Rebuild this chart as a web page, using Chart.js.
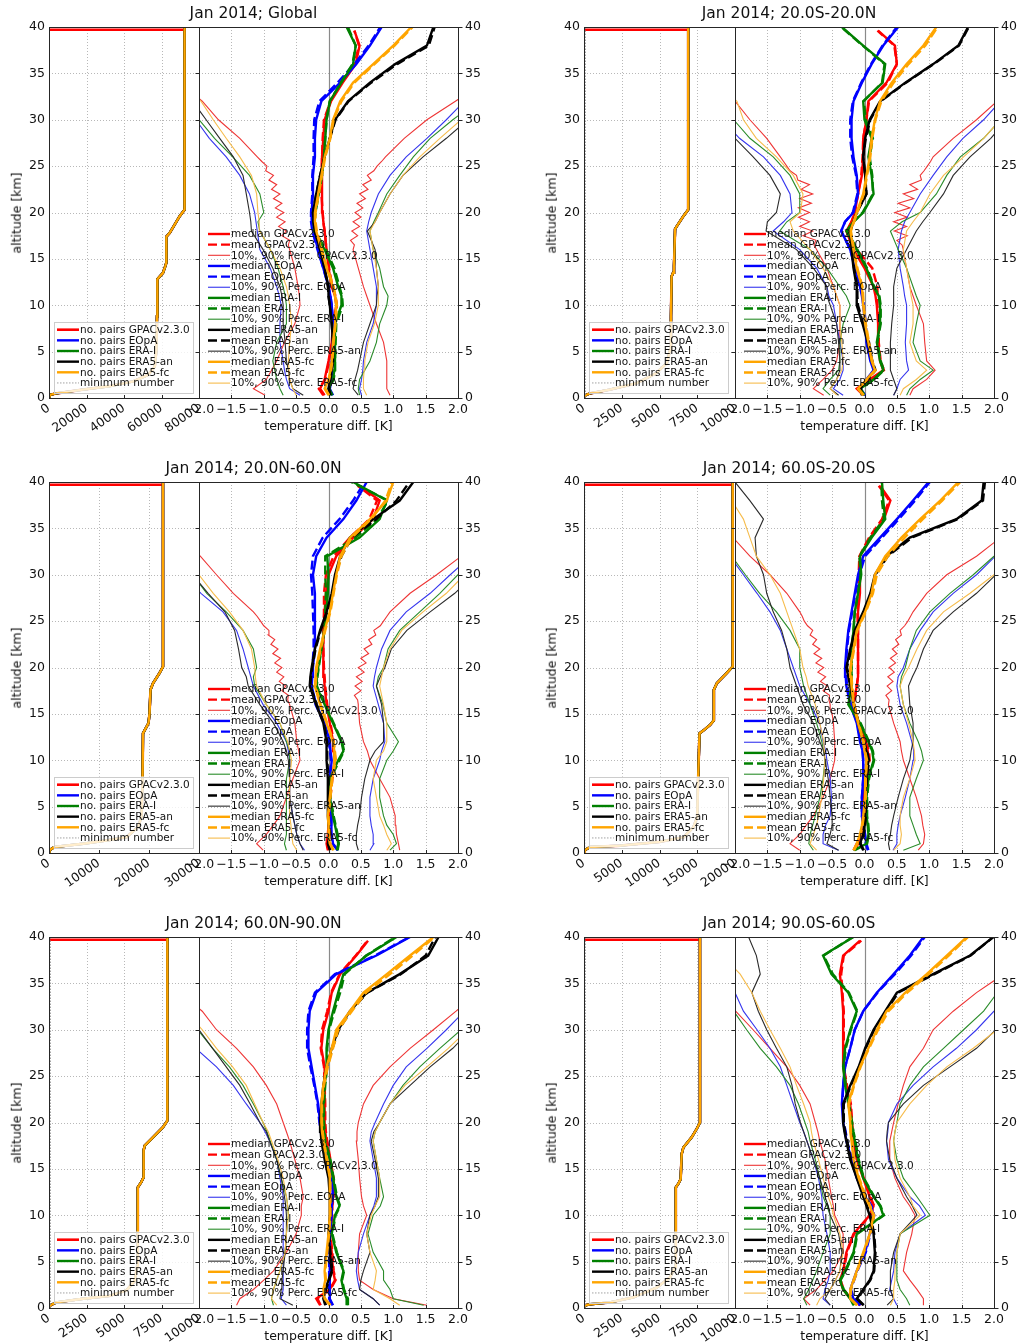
<!DOCTYPE html>
<html>
<head>
<meta charset="utf-8">
<title>Jan 2014 temperature differences</title>
<script src="https://cdn.jsdelivr.net/npm/chart.js@4.4.1/dist/chart.umd.min.js"></script>
<style>
  html, body { margin: 0; padding: 0; background: #fff; }
  body { position: relative; width: 1018px; height: 1344px; overflow: hidden; font-family: "DejaVu Sans", sans-serif; }
  canvas { position: absolute; }
  .lbl { position: absolute; white-space: nowrap; color: #111; line-height: 1; font-family: "DejaVu Sans", sans-serif; }
</style>
</head>
<body>
<script>
// ---------------------------------------------------------------------------
// Shared axes
// ---------------------------------------------------------------------------
const ALT = [0.3, 1, 2, 3, 4, 6, 8, 10, 11, 12, 14, 16, 18, 19, 20, 22, 24, 26, 28, 30, 32, 34, 36, 38, 40];
const ALT_GPAC = [0.3, 1, 2, 3, 4, 6, 8, 10, 11, 12, 14, 16, 18, 19, 20, 22, 24, 26, 28, 30, 32, 34, 36, 38, 39.6];
// finer levels for the oscillating GPAC percentiles in the lower stratosphere
const ALT_FINE = [15, 15.5, 16, 16.5, 17, 17.5, 18, 18.5, 19, 19.5, 20, 20.5, 21, 21.5, 22, 22.5, 23, 23.5, 24, 24.5, 25, 25.5, 26];
const ALT_TICKS = [0, 5, 10, 15, 20, 25, 30, 35, 40];
const TEMP_TICKS = [-2, -1.5, -1, -0.5, 0, 0.5, 1, 1.5, 2];
const GPAC_TOP_KM = 39.7;
const MIN_PAIRS = 100;

const SOURCES = ['GPACv2.3.0', 'EOpA', 'ERA-I', 'ERA5-an', 'ERA5-fc'];

// ---------------------------------------------------------------------------
// Global
// ---------------------------------------------------------------------------
const GLOBAL_PAIR_TICKS = [0, 20000, 40000, 60000, 80000];
const GLOBAL_PAIR_ALT = [0, 0.35, 0.5, 0.9, 1.26, 1.8, 2.5, 3.4, 5.2, 8.8, 12.8, 13.5, 14.2, 14.6, 17.4, 17.8, 19.6, 20.3, 40];
const GLOBAL_PAIRS = [0, 600, 3900, 18000, 32000, 45000, 53000, 56400, 57300, 57600, 57800, 60800, 62000, 62600, 62600, 64400, 69700, 72300, 72300];

const GLOBAL_GPAC_MED = [-0.06,-0.13,-0.06,-0.03,0.0,0.05,0.07,0.12,0.1,0.05,0.0,-0.03,-0.06,-0.08,-0.09,-0.1,-0.1,-0.1,-0.08,-0.06,0.04,0.22,0.42,0.48,0.4];
const GLOBAL_GPAC_MEAN = [-0.08,-0.15,-0.05,-0.02,0.01,0.06,0.08,0.13,0.11,0.06,0.01,-0.03,-0.06,-0.08,-0.09,-0.11,-0.11,-0.1,-0.09,-0.07,0.03,0.2,0.4,0.47,0.4];
const GLOBAL_GPAC_P10 = [-0.98,-1.16,-0.96,-0.88,-0.8,-0.68,-0.52,-0.44,-0.45,-0.47,-0.52,-0.6,-0.7,-0.72,-0.75,-0.8,-0.9,-1.1,-1.37,-1.7,-1.95,-2.3,-2.6,-2.9,-3.2];
const GLOBAL_GPAC_P90 = [0.95,0.9,0.9,0.9,0.9,0.85,0.74,0.64,0.59,0.54,0.46,0.38,0.41,0.44,0.46,0.54,0.64,0.88,1.17,1.52,1.96,2.4,2.8,3.1,3.4];
const GLOBAL_GPAC_P10_FINE = [-0.56,-0.58,-0.6,-0.62,-0.6,-0.72,-0.65,-0.77,-0.67,-0.8,-0.69,-0.82,-0.72,-0.85,-0.75,-0.88,-0.8,-0.92,-0.85,-0.97,-0.95,-1.03,-1.1];
const GLOBAL_GPAC_P90_FINE = [0.42,0.4,0.38,0.4,0.34,0.45,0.36,0.48,0.38,0.5,0.41,0.53,0.44,0.57,0.48,0.61,0.53,0.66,0.6,0.7,0.75,0.82,0.88];
const GLOBAL_EOPA_MED = [0.07,0.02,0.05,0.05,0.05,0.07,0.07,0.05,0.03,0.0,-0.08,-0.16,-0.24,-0.26,-0.26,-0.24,-0.24,-0.21,-0.21,-0.19,-0.11,0.18,0.43,0.64,0.82];
const GLOBAL_EOPA_MEAN = [0.06,0.01,0.04,0.04,0.05,0.07,0.07,0.05,0.03,0.0,-0.08,-0.17,-0.25,-0.27,-0.27,-0.25,-0.25,-0.23,-0.23,-0.22,-0.14,0.14,0.4,0.62,0.8];
const GLOBAL_EOPA_P10 = [-0.44,-0.6,-0.65,-0.68,-0.7,-0.75,-0.75,-0.73,-0.76,-0.8,-0.9,-1.06,-1.1,-1.12,-1.14,-1.22,-1.37,-1.58,-1.84,-2.05,-2.3,-2.6,-2.9,-3.2,-3.5];
const GLOBAL_EOPA_P90 = [0.51,0.48,0.51,0.53,0.54,0.59,0.69,0.74,0.74,0.74,0.69,0.64,0.59,0.62,0.66,0.77,0.95,1.2,1.52,1.82,2.1,2.5,2.9,3.2,3.5];
const GLOBAL_ERAI_MED = [0.05,0.0,0.07,0.09,0.1,0.1,0.1,0.2,0.2,0.15,0.07,-0.06,-0.22,-0.23,-0.21,-0.16,-0.1,-0.07,-0.05,-0.03,0.02,0.2,0.38,0.42,0.28];
const GLOBAL_ERAI_MEAN = [0.06,0.01,0.08,0.1,0.1,0.11,0.12,0.22,0.21,0.17,0.09,-0.04,-0.21,-0.22,-0.2,-0.15,-0.1,-0.07,-0.05,-0.03,0.02,0.19,0.37,0.42,0.3];
const GLOBAL_ERAI_P10 = [-0.7,-0.75,-0.8,-0.83,-0.86,-0.8,-0.65,-0.65,-0.67,-0.7,-0.78,-0.9,-1.06,-1.09,-1.0,-1.06,-1.22,-1.48,-1.76,-2.0,-2.3,-2.6,-2.9,-3.2,-3.5];
const GLOBAL_ERAI_P90 = [0.48,0.46,0.48,0.56,0.64,0.74,0.79,0.9,0.92,0.85,0.79,0.69,0.64,0.7,0.77,0.9,1.1,1.31,1.57,1.92,2.3,2.6,2.9,3.2,3.5];
const GLOBAL_ERA5AN_MED = [0.02,0.0,0.02,0.05,0.07,0.07,0.05,0.02,0.0,0.0,-0.06,-0.13,-0.21,-0.23,-0.24,-0.19,-0.13,-0.06,0.02,0.1,0.3,0.64,1.03,1.52,1.62];
const GLOBAL_ERA5AN_MEAN = [0.03,0.01,0.03,0.05,0.07,0.07,0.05,0.02,0.0,-0.01,-0.06,-0.13,-0.21,-0.23,-0.24,-0.19,-0.13,-0.06,0.02,0.11,0.31,0.66,1.06,1.55,1.64];
const GLOBAL_ERA5AN_P10 = [-0.39,-0.55,-0.6,-0.62,-0.65,-0.67,-0.7,-0.7,-0.72,-0.75,-0.86,-1.01,-1.19,-1.2,-1.22,-1.27,-1.32,-1.47,-1.68,-1.89,-2.1,-2.4,-2.7,-3.0,-3.3];
const GLOBAL_ERA5AN_P90 = [0.46,0.38,0.41,0.45,0.48,0.54,0.64,0.74,0.75,0.77,0.74,0.72,0.6,0.72,0.79,0.95,1.15,1.46,1.82,2.15,2.5,2.8,3.1,3.4,3.7];
const GLOBAL_ERA5FC_MED = [0.0,-0.06,0.0,0.03,0.05,0.07,0.1,0.12,0.1,0.07,-0.03,-0.11,-0.19,-0.21,-0.21,-0.16,-0.11,-0.06,0.02,0.07,0.18,0.38,0.69,1.0,1.28];
const GLOBAL_ERA5FC_MEAN = [0.01,-0.05,0.01,0.04,0.06,0.08,0.11,0.13,0.11,0.08,-0.02,-0.1,-0.18,-0.2,-0.2,-0.15,-0.1,-0.05,0.03,0.08,0.2,0.4,0.71,1.02,1.3];
const GLOBAL_ERA5FC_P10 = [-0.5,-0.55,-0.6,-0.61,-0.62,-0.6,-0.57,-0.6,-0.62,-0.65,-0.75,-0.9,-1.06,-1.07,-1.09,-1.11,-1.19,-1.37,-1.58,-1.78,-1.97,-2.3,-2.6,-2.9,-3.2];
const GLOBAL_ERA5FC_P90 = [0.59,0.54,0.54,0.55,0.56,0.61,0.71,0.77,0.77,0.77,0.74,0.69,0.64,0.72,0.79,0.95,1.15,1.41,1.72,2.05,2.4,2.7,3.0,3.3,3.6];

// ---------------------------------------------------------------------------
// 20.0S-20.0N
// ---------------------------------------------------------------------------
const TROP_PAIR_TICKS = [0, 2500, 5000, 7500, 10000];
const TROP_PAIR_ALT = [0, 0.3, 0.5, 0.9, 1.6, 2.7, 3.8, 5.2, 8.8, 13.1, 13.5, 14.2, 18.2, 18.5, 19.6, 20.3, 40];
const TROP_PAIRS = [0, 100, 400, 1700, 3500, 4800, 5500, 5700, 5760, 5800, 5900, 5960, 6030, 6140, 6580, 6900, 6900];

const TROP_GPAC_MED = [-0.02,-0.12,0.08,0.29,0.24,0.21,0.21,0.19,0.17,0.14,0.0,-0.17,-0.28,-0.2,-0.15,-0.1,-0.04,-0.02,-0.02,0.03,0.06,0.34,0.5,0.47,0.21];
const TROP_GPAC_MEAN = [0.0,-0.1,0.1,0.3,0.25,0.22,0.22,0.2,0.2,0.2,0.12,-0.12,-0.27,-0.2,-0.15,-0.1,-0.05,-0.03,-0.02,0.03,0.07,0.36,0.5,0.46,0.2];
const TROP_GPAC_P10 = [-0.63,-0.79,-0.64,-0.5,-0.43,-0.38,-0.38,-0.38,-0.43,-0.48,-0.58,-0.74,-0.89,-0.95,-0.95,-0.89,-1.1,-1.3,-1.51,-1.77,-2.0,-2.3,-2.6,-2.9,-3.2];
const TROP_GPAC_P90 = [0.7,0.75,0.96,1.09,0.96,0.93,0.91,0.8,0.75,0.7,0.65,0.6,0.55,0.55,0.55,0.7,0.86,1.06,1.37,1.73,2.05,2.4,2.7,3.0,3.3];
const TROP_GPAC_P10_FINE = [-0.66,-0.7,-0.74,-0.78,-0.75,-0.95,-0.8,-1.0,-0.85,-1.02,-0.85,-1.02,-0.82,-1.0,-0.8,-0.98,-0.85,-1.03,-1.05,-1.15,-1.2,-1.25,-1.3];
const TROP_GPAC_P90_FINE = [0.62,0.61,0.6,0.58,0.5,0.66,0.46,0.65,0.45,0.66,0.47,0.7,0.52,0.76,0.6,0.82,0.7,0.88,0.86,0.92,0.97,1.02,1.06];
const TROP_EOPA_MED = [0.0,-0.07,0.03,0.14,0.09,0.03,0.01,-0.02,-0.04,-0.07,-0.15,-0.22,-0.36,-0.3,-0.17,-0.1,-0.12,-0.17,-0.2,-0.2,-0.17,-0.04,0.11,0.29,0.52];
const TROP_EOPA_MEAN = [0.01,-0.06,0.04,0.15,0.1,0.04,0.02,-0.01,-0.03,-0.06,-0.14,-0.22,-0.36,-0.3,-0.18,-0.11,-0.13,-0.19,-0.22,-0.22,-0.18,-0.05,0.1,0.28,0.5];
const TROP_EOPA_P10 = [-0.33,-0.48,-0.38,-0.33,-0.33,-0.38,-0.43,-0.48,-0.55,-0.58,-0.74,-1.0,-1.41,-1.25,-1.12,-1.15,-1.3,-1.56,-1.93,-2.2,-2.5,-2.8,-3.1,-3.4,-3.7];
const TROP_EOPA_P90 = [0.45,0.5,0.55,0.68,0.65,0.63,0.65,0.65,0.62,0.6,0.55,0.52,0.57,0.62,0.7,0.86,1.06,1.27,1.52,1.84,2.1,2.4,2.7,3.0,3.3];
const TROP_ERAI_MED = [-0.02,-0.07,0.14,0.29,0.24,0.19,0.24,0.24,0.22,0.14,0.03,-0.12,-0.28,-0.17,-0.02,0.14,0.11,0.06,0.11,0.0,-0.02,0.28,0.32,-0.02,-0.35];
const TROP_ERAI_MEAN = [0.0,-0.06,0.15,0.3,0.25,0.2,0.25,0.25,0.23,0.15,0.04,-0.11,-0.27,-0.17,-0.03,0.13,0.12,0.08,0.13,0.02,-0.01,0.27,0.31,-0.03,-0.36];
const TROP_ERAI_P10 = [-0.53,-0.64,-0.53,-0.4,-0.38,-0.38,-0.33,-0.22,-0.28,-0.38,-0.58,-0.84,-1.31,-1.2,-1.0,-1.0,-1.15,-1.41,-1.77,-2.02,-2.3,-2.6,-2.9,-3.2,-3.5];
const TROP_ERAI_P90 = [0.65,0.7,0.86,1.06,0.86,0.75,0.8,0.86,0.8,0.75,0.65,0.52,0.4,0.58,0.86,1.11,1.27,1.48,1.84,2.1,2.4,2.7,3.0,3.3,3.6];
const TROP_ERA5AN_MED = [-0.04,-0.07,0.04,0.16,0.11,0.05,-0.03,-0.12,-0.12,-0.12,-0.17,-0.2,-0.22,-0.17,-0.12,0.03,0.01,-0.02,0.01,0.08,0.24,0.63,1.06,1.45,1.6];
const TROP_ERA5AN_MEAN = [-0.03,-0.06,0.05,0.17,0.12,0.07,-0.02,-0.1,-0.11,-0.11,-0.16,-0.19,-0.22,-0.17,-0.12,0.03,0.01,-0.02,0.02,0.09,0.25,0.64,1.07,1.46,1.61];
const TROP_ERA5AN_P10 = [-0.4,-0.53,-0.43,-0.38,-0.38,-0.4,-0.43,-0.53,-0.58,-0.58,-0.79,-1.05,-1.52,-1.5,-1.36,-1.3,-1.46,-1.72,-2.0,-2.3,-2.6,-2.9,-3.2,-3.5,-3.8];
const TROP_ERA5AN_P90 = [0.45,0.5,0.45,0.4,0.4,0.4,0.42,0.45,0.45,0.45,0.5,0.65,0.8,0.9,1.01,1.22,1.37,1.63,1.95,2.2,2.5,2.8,3.1,3.4,3.7];
const TROP_ERA5FC_MED = [-0.02,-0.1,0.03,0.16,0.11,0.06,0.01,-0.02,-0.03,-0.04,-0.12,-0.17,-0.22,-0.17,-0.12,-0.02,0.03,0.08,0.11,0.16,0.24,0.42,0.65,0.91,1.11];
const TROP_ERA5FC_MEAN = [-0.01,-0.09,0.04,0.17,0.12,0.07,0.02,-0.01,-0.02,-0.03,-0.11,-0.16,-0.21,-0.16,-0.11,-0.01,0.04,0.09,0.12,0.17,0.26,0.45,0.68,0.94,1.13];
const TROP_ERA5FC_P10 = [-0.43,-0.53,-0.43,-0.35,-0.33,-0.35,-0.38,-0.38,-0.43,-0.48,-0.64,-0.84,-1.1,-1.15,-0.99,-0.95,-1.1,-1.36,-1.67,-1.87,-1.97,-2.3,-2.6,-2.9,-3.2];
const TROP_ERA5FC_P90 = [0.55,0.6,0.8,0.96,0.8,0.7,0.75,0.75,0.72,0.7,0.65,0.6,0.65,0.75,0.86,1.01,1.22,1.53,1.84,2.1,2.4,2.7,3.0,3.3,3.6];

// ---------------------------------------------------------------------------
// 20.0N-60.0N
// ---------------------------------------------------------------------------
const NMID_PAIR_TICKS = [0, 10000, 20000, 30000];
const NMID_PAIR_ALT = [0, 0.3, 0.65, 1.0, 1.4, 1.7, 2.8, 3.9, 7.5, 12.9, 13.6, 14.0, 15.0, 17.6, 18.3, 19.4, 20.1, 40];
const NMID_PAIRS = [0, 100, 1100, 6800, 12100, 15500, 17800, 18500, 18700, 18800, 19500, 19900, 20100, 20300, 20800, 22100, 22800, 22800];

const NMID_GPAC_MED = [-0.01,-0.03,-0.01,0.0,0.02,0.02,0.05,0.1,0.08,0.07,0.02,-0.03,-0.06,-0.07,-0.08,-0.08,-0.08,-0.06,-0.04,0.0,0.12,0.38,0.69,0.79,0.48];
const NMID_GPAC_MEAN = [0.0,-0.02,0.0,0.01,0.03,0.03,0.06,0.11,0.09,0.08,0.03,-0.02,-0.05,-0.06,-0.07,-0.08,-0.08,-0.07,-0.07,-0.04,0.08,0.33,0.63,0.75,0.45];
const NMID_GPAC_P10 = [-1.01,-1.11,-0.96,-0.85,-0.75,-0.65,-0.55,-0.44,-0.46,-0.49,-0.52,-0.6,-0.7,-0.72,-0.78,-0.83,-0.96,-1.16,-1.47,-1.73,-1.98,-2.3,-2.6,-2.9,-3.2];
const NMID_GPAC_P90 = [1.1,1.08,1.05,1.04,1.03,0.95,0.79,0.64,0.6,0.54,0.48,0.46,0.46,0.48,0.51,0.59,0.74,0.95,1.26,1.67,2.05,2.4,2.7,3.0,3.3];
const NMID_GPAC_P10_FINE = [-0.56,-0.58,-0.6,-0.63,-0.62,-0.72,-0.66,-0.76,-0.69,-0.8,-0.72,-0.83,-0.74,-0.86,-0.78,-0.89,-0.83,-0.93,-0.92,-1.0,-1.05,-1.1,-1.16];
const NMID_GPAC_P90_FINE = [0.47,0.46,0.46,0.45,0.4,0.5,0.41,0.52,0.43,0.55,0.46,0.58,0.5,0.62,0.55,0.67,0.62,0.73,0.7,0.8,0.85,0.9,0.95];
const NMID_EOPA_MED = [0.15,0.07,0.05,0.04,0.05,0.02,0.02,0.05,0.03,0.02,-0.06,-0.19,-0.26,-0.25,-0.24,-0.21,-0.21,-0.21,-0.21,-0.24,-0.19,-0.03,0.23,0.43,0.59];
const NMID_EOPA_MEAN = [0.14,0.06,0.04,0.04,0.05,0.02,0.02,0.04,0.02,0.01,-0.07,-0.2,-0.27,-0.26,-0.25,-0.23,-0.23,-0.24,-0.25,-0.27,-0.24,-0.09,0.17,0.38,0.56];
const NMID_EOPA_P10 = [-0.37,-0.44,-0.49,-0.52,-0.55,-0.6,-0.6,-0.6,-0.62,-0.65,-0.8,-1.01,-1.16,-1.2,-1.24,-1.32,-1.42,-1.63,-1.97,-2.25,-2.5,-2.8,-3.1,-3.4,-3.7];
const NMID_EOPA_P90 = [0.64,0.7,0.69,0.66,0.64,0.64,0.69,0.79,0.82,0.87,0.85,0.77,0.69,0.71,0.74,0.82,0.95,1.2,1.57,1.88,2.2,2.5,2.8,3.1,3.4];
const NMID_ERAI_MED = [0.13,0.15,0.13,0.1,0.07,0.02,0.02,0.15,0.23,0.2,0.07,-0.06,-0.19,-0.18,-0.16,-0.11,-0.06,-0.03,-0.01,0.0,-0.02,0.48,0.79,0.9,0.38];
const NMID_ERAI_MEAN = [0.14,0.16,0.14,0.11,0.08,0.03,0.03,0.17,0.24,0.21,0.08,-0.05,-0.18,-0.17,-0.15,-0.11,-0.07,-0.05,-0.04,-0.05,-0.05,0.42,0.75,0.92,0.35];
const NMID_ERAI_P10 = [-0.65,-0.68,-0.65,-0.65,-0.65,-0.65,-0.65,-0.6,-0.6,-0.65,-0.75,-0.96,-1.14,-1.16,-1.11,-1.16,-1.32,-1.58,-1.88,-2.1,-2.4,-2.7,-3.0,-3.3,-3.6];
const NMID_ERAI_P90 = [0.95,1.05,1.0,0.9,0.85,0.79,0.79,0.9,1.0,1.08,0.9,0.84,0.74,0.77,0.85,0.92,1.1,1.41,1.72,2.0,2.3,2.6,2.9,3.2,3.5];
const NMID_ERA5AN_MED = [0.02,-0.01,0.02,0.0,-0.01,-0.01,-0.01,-0.03,-0.03,-0.03,-0.08,-0.19,-0.29,-0.28,-0.26,-0.21,-0.13,-0.03,0.05,0.1,0.18,0.33,0.69,1.1,1.31];
const NMID_ERA5AN_MEAN = [0.03,0.0,0.03,0.01,0.0,0.0,0.0,-0.02,-0.02,-0.02,-0.07,-0.18,-0.28,-0.27,-0.25,-0.2,-0.12,-0.02,0.06,0.11,0.2,0.36,0.74,1.05,1.25];
const NMID_ERA5AN_P10 = [-0.39,-0.44,-0.49,-0.52,-0.55,-0.6,-0.6,-0.62,-0.65,-0.7,-0.85,-1.06,-1.24,-1.27,-1.34,-1.39,-1.45,-1.6,-1.86,-2.1,-2.4,-2.7,-3.0,-3.3,-3.6];
const NMID_ERA5AN_P90 = [0.46,0.43,0.43,0.45,0.48,0.51,0.56,0.64,0.72,0.85,0.85,0.82,0.74,0.8,0.87,0.97,1.21,1.57,1.95,2.25,2.6,2.9,3.2,3.5,3.8];
const NMID_ERA5FC_MED = [0.07,0.02,0.0,0.0,-0.01,0.02,0.05,0.1,0.09,0.07,-0.03,-0.13,-0.21,-0.2,-0.19,-0.13,-0.06,0.02,0.07,0.12,0.18,0.33,0.64,0.9,1.0];
const NMID_ERA5FC_MEAN = [0.08,0.03,0.01,0.01,0.0,0.03,0.06,0.11,0.1,0.08,-0.02,-0.12,-0.2,-0.19,-0.18,-0.12,-0.05,0.03,0.08,0.13,0.2,0.36,0.66,0.88,0.98];
const NMID_ERA5FC_P10 = [-0.49,-0.55,-0.57,-0.58,-0.6,-0.6,-0.6,-0.57,-0.6,-0.63,-0.75,-0.96,-1.11,-1.13,-1.14,-1.19,-1.32,-1.53,-1.78,-2.0,-2.3,-2.6,-2.9,-3.2,-3.5];
const NMID_ERA5FC_P90 = [0.9,0.97,0.9,0.85,0.79,0.74,0.69,0.74,0.85,0.9,0.9,0.85,0.79,0.82,0.85,0.95,1.13,1.46,1.82,2.1,2.4,2.7,3.0,3.3,3.6];

// ---------------------------------------------------------------------------
// 60.0S-20.0S
// ---------------------------------------------------------------------------
const SMID_PAIR_TICKS = [0, 5000, 10000, 15000, 20000];
const SMID_PAIR_ALT = [0, 0.3, 0.65, 0.8, 1.2, 1.7, 2.8, 3.9, 7.5, 12.9, 13.2, 13.8, 14.3, 17.6, 18.3, 19.4, 20.1, 40];
const SMID_PAIRS = [0, 100, 800, 4800, 10000, 13200, 14500, 15000, 15100, 15300, 15800, 16700, 17200, 17200, 17600, 18900, 19700, 19700];

const SMID_GPAC_MED = [-0.17,-0.12,-0.02,-0.02,-0.02,-0.02,-0.02,0.06,0.05,0.01,-0.1,-0.17,-0.12,-0.1,-0.1,-0.1,-0.1,-0.1,-0.07,-0.07,-0.07,0.09,0.3,0.4,0.24];
const SMID_GPAC_MEAN = [-0.15,-0.1,-0.01,-0.01,-0.01,0.0,0.0,0.08,0.07,0.02,-0.09,-0.16,-0.12,-0.1,-0.1,-0.1,-0.1,-0.11,-0.09,-0.09,-0.08,0.07,0.27,0.38,0.22];
const SMID_GPAC_P10 = [-1.0,-1.15,-1.0,-0.9,-0.79,-0.64,-0.53,-0.46,-0.46,-0.46,-0.48,-0.53,-0.61,-0.65,-0.69,-0.74,-0.84,-1.0,-1.2,-1.46,-1.77,-2.03,-2.3,-2.6,-2.9];
const SMID_GPAC_P90 = [0.83,0.91,0.93,0.9,0.88,0.8,0.7,0.6,0.57,0.55,0.45,0.37,0.39,0.4,0.42,0.45,0.57,0.75,0.96,1.27,1.73,2.1,2.4,2.7,3.0];
const SMID_GPAC_P10_FINE = [-0.5,-0.52,-0.53,-0.55,-0.54,-0.64,-0.57,-0.68,-0.6,-0.72,-0.63,-0.75,-0.66,-0.78,-0.69,-0.8,-0.74,-0.84,-0.8,-0.88,-0.93,-0.96,-1.0];
const SMID_GPAC_P90_FINE = [0.41,0.39,0.37,0.38,0.33,0.42,0.35,0.44,0.36,0.46,0.38,0.48,0.4,0.5,0.43,0.53,0.48,0.57,0.55,0.62,0.67,0.71,0.75];
const SMID_EOPA_MED = [0.06,0.03,0.01,-0.02,-0.04,-0.04,-0.02,-0.02,-0.03,-0.07,-0.12,-0.22,-0.28,-0.29,-0.3,-0.28,-0.25,-0.2,-0.15,-0.1,-0.02,0.24,0.5,0.75,0.99];
const SMID_EOPA_MEAN = [0.05,0.02,0.0,-0.02,-0.04,-0.04,-0.02,-0.02,-0.03,-0.06,-0.11,-0.21,-0.27,-0.28,-0.29,-0.27,-0.24,-0.19,-0.14,-0.08,0.01,0.27,0.53,0.78,1.01];
const SMID_EOPA_P10 = [-0.4,-0.64,-0.64,-0.6,-0.53,-0.51,-0.53,-0.58,-0.6,-0.64,-0.69,-0.84,-1.0,-1.05,-1.1,-1.2,-1.3,-1.46,-1.66,-1.87,-2.08,-2.4,-2.7,-3.0,-3.3];
const SMID_EOPA_P90 = [0.44,0.5,0.5,0.52,0.55,0.63,0.7,0.75,0.76,0.73,0.65,0.55,0.5,0.52,0.6,0.7,0.86,1.06,1.37,1.73,2.02,2.3,2.6,2.9,3.2];
const SMID_ERAI_MED = [-0.17,0.03,0.06,0.05,0.03,0.03,0.06,0.14,0.12,0.06,-0.07,-0.25,-0.2,-0.2,-0.2,-0.2,-0.17,-0.15,-0.1,-0.05,-0.07,0.11,0.32,0.29,0.27];
const SMID_ERAI_MEAN = [-0.15,0.04,0.07,0.06,0.04,0.04,0.07,0.15,0.13,0.07,-0.06,-0.24,-0.2,-0.2,-0.2,-0.2,-0.17,-0.15,-0.1,-0.06,-0.08,0.09,0.3,0.27,0.26];
const SMID_ERAI_P10 = [-0.79,-0.86,-0.84,-0.8,-0.76,-0.69,-0.64,-0.61,-0.63,-0.66,-0.74,-0.84,-0.94,-0.97,-1.0,-1.0,-1.15,-1.36,-1.62,-1.84,-2.05,-2.3,-2.6,-2.9,-3.2];
const SMID_ERAI_P90 = [0.6,0.86,0.8,0.75,0.7,0.7,0.8,0.91,0.88,0.83,0.7,0.6,0.55,0.57,0.63,0.7,0.8,1.01,1.32,1.68,2.0,2.3,2.6,2.9,3.2];
const SMID_ERA5AN_MED = [-0.02,-0.07,-0.02,0.0,0.01,0.01,0.03,0.06,0.03,-0.02,-0.1,-0.17,-0.22,-0.25,-0.28,-0.22,-0.15,-0.02,0.09,0.16,0.34,0.7,1.42,1.81,1.84];
const SMID_ERA5AN_MEAN = [-0.01,-0.06,-0.01,0.01,0.02,0.02,0.04,0.07,0.04,-0.01,-0.09,-0.16,-0.21,-0.24,-0.27,-0.21,-0.14,-0.01,0.1,0.17,0.36,0.73,1.44,1.83,1.86];
const SMID_ERA5AN_P10 = [-0.4,-0.58,-0.53,-0.5,-0.5,-0.53,-0.56,-0.61,-0.63,-0.69,-0.79,-0.95,-1.05,-1.1,-1.15,-1.2,-1.28,-1.41,-1.51,-1.56,-1.67,-1.69,-1.56,-1.77,-2.0];
const SMID_ERA5AN_P90 = [0.39,0.37,0.4,0.42,0.45,0.52,0.6,0.7,0.72,0.75,0.75,0.7,0.68,0.74,0.81,0.91,1.06,1.37,1.73,2.03,2.3,2.6,2.9,3.2,3.5];
const SMID_ERA5FC_MED = [-0.17,-0.12,-0.07,-0.04,-0.02,0.01,0.01,0.03,0.0,-0.02,-0.1,-0.17,-0.2,-0.21,-0.22,-0.17,-0.12,0.01,0.11,0.16,0.32,0.57,0.86,1.17,1.45];
const SMID_ERA5FC_MEAN = [-0.16,-0.11,-0.06,-0.03,-0.01,0.02,0.02,0.04,0.01,-0.01,-0.09,-0.16,-0.19,-0.2,-0.21,-0.16,-0.11,0.02,0.13,0.19,0.36,0.62,0.9,1.2,1.48];
const SMID_ERA5FC_P10 = [-0.74,-0.84,-0.79,-0.74,-0.71,-0.66,-0.63,-0.61,-0.62,-0.63,-0.69,-0.76,-0.87,-0.9,-0.95,-1.0,-1.1,-1.2,-1.3,-1.46,-1.67,-1.77,-1.87,-2.05,-2.3];
const SMID_ERA5FC_P90 = [0.45,0.55,0.57,0.55,0.55,0.6,0.7,0.78,0.77,0.75,0.68,0.6,0.55,0.6,0.68,0.81,0.96,1.22,1.63,2.0,2.3,2.6,2.9,3.2,3.5];

// ---------------------------------------------------------------------------
// 60.0N-90.0N
// ---------------------------------------------------------------------------
const NPOL_PAIR_TICKS = [0, 2500, 5000, 7500, 10000];
const NPOL_PAIR_ALT = [0, 0.3, 0.6, 1.0, 1.3, 1.9, 2.9, 4.4, 8.0, 13.0, 13.6, 14.1, 17.0, 17.5, 18.4, 19.5, 20.2, 40];
const NPOL_PAIRS = [0, 100, 490, 2270, 4040, 5160, 5710, 5870, 5910, 5930, 6160, 6310, 6310, 6380, 6930, 7600, 7890, 7890];

const NPOL_GPAC_MED = [-0.13,-0.19,0.02,0.1,0.07,0.05,0.02,0.05,0.05,0.07,0.07,0.02,-0.03,-0.05,-0.06,-0.06,-0.06,-0.06,-0.11,-0.08,0.0,0.05,0.18,0.43,0.61];
const NPOL_GPAC_MEAN = [-0.12,-0.17,0.03,0.11,0.08,0.06,0.03,0.06,0.06,0.08,0.08,0.03,-0.02,-0.04,-0.05,-0.05,-0.06,-0.07,-0.12,-0.1,-0.02,0.04,0.17,0.42,0.6];
const NPOL_GPAC_P10 = [-1.42,-1.37,-1.16,-1.0,-0.85,-0.65,-0.5,-0.42,-0.42,-0.39,-0.44,-0.52,-0.6,-0.65,-0.7,-0.8,-0.96,-1.16,-1.42,-1.73,-1.95,-2.3,-2.6,-2.9,-3.2];
const NPOL_GPAC_P90 = [1.52,1.0,0.69,0.48,0.46,0.46,0.48,0.59,0.54,0.51,0.48,0.46,0.43,0.44,0.46,0.54,0.69,0.95,1.26,1.62,1.97,2.3,2.6,2.9,3.2];
const NPOL_EOPA_MED = [0.07,0.02,0.02,0.02,0.02,0.02,0.02,0.05,0.05,0.07,0.05,-0.03,-0.08,-0.11,-0.13,-0.16,-0.21,-0.26,-0.31,-0.31,-0.29,-0.19,0.12,0.74,1.26];
const NPOL_EOPA_MEAN = [0.06,0.01,0.01,0.01,0.01,0.01,0.01,0.04,0.04,0.06,0.04,-0.04,-0.09,-0.12,-0.14,-0.17,-0.22,-0.28,-0.33,-0.33,-0.31,-0.21,0.1,0.72,1.25];
const NPOL_EOPA_P10 = [-0.65,-0.73,-0.7,-0.7,-0.7,-0.7,-0.7,-0.7,-0.7,-0.7,-0.75,-0.8,-0.91,-0.98,-1.06,-1.27,-1.47,-1.73,-2.05,-2.3,-2.6,-2.9,-3.2,-3.5,-3.8];
const NPOL_EOPA_P90 = [0.79,0.69,0.48,0.45,0.43,0.46,0.54,0.64,0.7,0.74,0.74,0.69,0.64,0.66,0.72,0.85,1.0,1.2,1.52,1.82,2.1,2.4,2.7,3.0,3.3];
const NPOL_ERAI_MED = [0.28,0.28,0.23,0.2,0.23,0.12,0.05,0.1,0.17,0.12,0.07,0.02,-0.06,-0.07,-0.08,-0.08,-0.06,-0.03,-0.03,0.0,0.07,0.15,0.23,0.59,1.05];
const NPOL_ERAI_MEAN = [0.3,0.3,0.24,0.21,0.24,0.13,0.06,0.11,0.18,0.13,0.08,0.03,-0.05,-0.06,-0.07,-0.07,-0.05,-0.02,-0.02,0.01,0.09,0.18,0.25,0.58,1.03];
const NPOL_ERAI_P10 = [-0.85,-0.88,-0.85,-0.8,-0.75,-0.67,-0.65,-0.62,-0.63,-0.65,-0.73,-0.8,-0.9,-0.95,-1.01,-1.16,-1.32,-1.53,-1.79,-2.02,-2.3,-2.6,-2.9,-3.2,-3.5];
const NPOL_ERAI_P90 = [1.47,1.0,0.95,0.85,0.85,0.69,0.61,0.69,0.8,0.85,0.79,0.74,0.69,0.72,0.79,0.95,1.15,1.41,1.72,2.05,2.4,2.7,3.0,3.3,3.6];
const NPOL_ERA5AN_MED = [-0.05,-0.08,-0.05,0.0,0.05,0.02,0.0,0.02,0.02,0.02,0.0,-0.06,-0.11,-0.12,-0.13,-0.11,-0.08,-0.03,0.05,0.15,0.33,0.59,1.1,1.54,1.7];
const NPOL_ERA5AN_MEAN = [-0.04,-0.07,-0.04,0.01,0.06,0.03,0.01,0.03,0.03,0.03,0.01,-0.05,-0.1,-0.11,-0.12,-0.1,-0.07,-0.02,0.06,0.16,0.34,0.6,1.12,1.5,1.65];
const NPOL_ERA5AN_P10 = [-0.55,-0.75,-0.73,-0.72,-0.7,-0.67,-0.65,-0.65,-0.66,-0.68,-0.73,-0.8,-0.91,-0.96,-1.06,-1.21,-1.37,-1.58,-1.79,-2.0,-2.3,-2.6,-2.9,-3.2,-3.5];
const NPOL_ERA5AN_P90 = [0.79,0.69,0.48,0.5,0.54,0.64,0.59,0.64,0.72,0.77,0.77,0.72,0.66,0.7,0.79,0.95,1.26,1.57,1.92,2.2,2.5,2.8,3.1,3.4,3.7];
const NPOL_ERA5FC_MED = [0.02,-0.06,-0.08,-0.05,-0.06,-0.03,0.0,0.02,0.02,0.02,0.02,-0.03,-0.08,-0.1,-0.11,-0.11,-0.08,-0.03,0.05,0.12,0.33,0.54,0.9,1.26,1.62];
const NPOL_ERA5FC_MEAN = [0.03,-0.05,-0.07,-0.04,-0.05,-0.02,0.01,0.03,0.03,0.03,0.03,-0.02,-0.07,-0.09,-0.1,-0.1,-0.07,-0.01,0.07,0.15,0.36,0.58,0.95,1.3,1.64];
const NPOL_ERA5FC_P10 = [-0.8,-0.88,-0.85,-0.8,-0.75,-0.67,-0.65,-0.62,-0.63,-0.65,-0.7,-0.78,-0.88,-0.93,-1.01,-1.14,-1.27,-1.48,-1.73,-1.95,-2.2,-2.5,-2.8,-3.1,-3.4];
const NPOL_ERA5FC_P90 = [1.1,0.95,0.69,0.72,0.74,0.64,0.59,0.66,0.72,0.79,0.79,0.74,0.69,0.72,0.79,0.95,1.18,1.52,1.85,2.15,2.5,2.8,3.1,3.4,3.7];

// ---------------------------------------------------------------------------
// 90.0S-60.0S
// ---------------------------------------------------------------------------
const SPOL_PAIR_TICKS = [0, 2500, 5000, 7500, 10000];
const SPOL_PAIR_ALT = [0, 0.3, 0.4, 0.6, 1.15, 2.2, 3.3, 4.4, 8.0, 13.0, 13.4, 13.9, 16.6, 17.3, 18.4, 19.3, 20.0, 40];
const SPOL_PAIRS = [0, 100, 400, 1720, 3270, 4810, 5700, 6030, 6070, 6090, 6250, 6400, 6470, 6580, 7130, 7460, 7680, 7680];

const SPOL_GPAC_MED = [-0.07,-0.22,-0.33,-0.38,-0.33,-0.28,-0.17,0.08,0.14,0.08,-0.02,-0.12,-0.17,-0.19,-0.2,-0.22,-0.28,-0.33,-0.33,-0.33,-0.33,-0.35,-0.38,-0.33,-0.07];
const SPOL_GPAC_MEAN = [-0.06,-0.21,-0.32,-0.37,-0.32,-0.27,-0.16,0.09,0.15,0.09,-0.01,-0.11,-0.16,-0.18,-0.19,-0.21,-0.27,-0.32,-0.32,-0.32,-0.32,-0.34,-0.36,-0.32,-0.05];
const SPOL_GPAC_P10 = [-0.84,-0.94,-0.74,-0.61,-0.48,-0.33,-0.33,-0.46,-0.48,-0.51,-0.56,-0.61,-0.69,-0.72,-0.76,-0.84,-1.0,-1.2,-1.46,-1.72,-1.99,-2.3,-2.6,-2.9,-3.2];
const SPOL_GPAC_P90 = [0.91,0.91,0.81,0.7,0.6,0.65,0.73,0.78,0.7,0.6,0.47,0.39,0.39,0.42,0.45,0.52,0.6,0.7,0.91,1.06,1.37,1.73,2.15,2.5,2.8];
const SPOL_EOPA_MED = [-0.07,-0.17,-0.22,-0.17,-0.12,0.01,0.08,0.14,0.1,0.01,-0.12,-0.2,-0.28,-0.3,-0.33,-0.35,-0.33,-0.3,-0.22,-0.15,-0.02,0.19,0.45,0.7,0.91];
const SPOL_EOPA_MEAN = [-0.06,-0.16,-0.21,-0.16,-0.11,0.02,0.09,0.15,0.11,0.02,-0.11,-0.19,-0.27,-0.29,-0.32,-0.34,-0.33,-0.3,-0.22,-0.15,-0.02,0.2,0.47,0.72,0.93];
const SPOL_EOPA_P10 = [-0.53,-0.64,-0.61,-0.56,-0.53,-0.53,-0.58,-0.64,-0.65,-0.66,-0.71,-0.79,-0.89,-0.94,-1.0,-1.1,-1.2,-1.3,-1.46,-1.66,-1.87,-2.0,-2.3,-2.6,-2.9];
const SPOL_EOPA_P90 = [0.5,0.45,0.39,0.42,0.45,0.47,0.55,0.94,0.85,0.7,0.5,0.37,0.34,0.36,0.37,0.5,0.75,1.06,1.42,1.73,2.0,2.3,2.6,2.9,3.2];
const SPOL_ERAI_MED = [-0.17,-0.22,-0.33,-0.38,-0.3,-0.17,-0.12,0.29,0.24,0.14,-0.02,-0.1,-0.15,-0.18,-0.2,-0.25,-0.3,-0.33,-0.3,-0.22,-0.12,-0.25,-0.51,-0.64,-0.17];
const SPOL_ERAI_MEAN = [-0.16,-0.21,-0.32,-0.37,-0.29,-0.16,-0.11,0.3,0.25,0.15,-0.01,-0.09,-0.14,-0.17,-0.19,-0.24,-0.29,-0.32,-0.29,-0.21,-0.11,-0.24,-0.49,-0.63,-0.18];
const SPOL_ERAI_P10 = [-0.89,-0.94,-0.86,-0.8,-0.74,-0.64,-0.53,-0.53,-0.58,-0.64,-0.69,-0.76,-0.84,-0.87,-0.92,-1.02,-1.15,-1.36,-1.61,-1.82,-2.02,-2.3,-2.6,-2.9,-3.2];
const SPOL_ERAI_P90 = [0.7,0.65,0.55,0.5,0.5,0.5,0.55,1.01,0.91,0.81,0.6,0.5,0.45,0.47,0.5,0.55,0.7,0.91,1.22,1.53,1.84,2.05,2.3,2.6,2.9];
const SPOL_ERA5AN_MED = [-0.02,-0.12,-0.02,0.08,0.14,0.16,0.14,0.08,0.03,-0.02,-0.12,-0.22,-0.28,-0.31,-0.33,-0.33,-0.22,-0.09,0.01,0.14,0.32,0.5,1.06,1.63,1.99];
const SPOL_ERA5AN_MEAN = [-0.01,-0.11,-0.01,0.09,0.15,0.17,0.15,0.09,0.04,-0.01,-0.11,-0.21,-0.27,-0.3,-0.32,-0.32,-0.21,-0.08,0.02,0.15,0.33,0.52,1.08,1.64,1.99];
const SPOL_ERA5AN_P10 = [-0.53,-0.61,-0.53,-0.45,-0.38,-0.35,-0.4,-0.53,-0.56,-0.61,-0.69,-0.79,-0.89,-0.94,-0.99,-1.07,-1.12,-1.2,-1.36,-1.51,-1.64,-1.74,-1.61,-1.67,-1.79];
const SPOL_ERA5AN_P90 = [0.35,0.45,0.4,0.4,0.4,0.45,0.55,0.81,0.74,0.65,0.5,0.39,0.34,0.35,0.37,0.6,0.91,1.32,1.73,2.03,2.3,2.6,2.9,3.2,3.5];
const SPOL_ERA5FC_MED = [-0.12,-0.22,-0.22,-0.17,-0.12,-0.02,0.08,0.14,0.08,0.01,-0.09,-0.17,-0.2,-0.22,-0.22,-0.25,-0.17,-0.07,0.06,0.19,0.34,0.63,0.96,1.27,1.58];
const SPOL_ERA5FC_MEAN = [-0.11,-0.21,-0.21,-0.16,-0.11,-0.01,0.09,0.15,0.09,0.02,-0.08,-0.16,-0.19,-0.21,-0.21,-0.24,-0.16,-0.06,0.07,0.21,0.37,0.66,0.99,1.3,1.6];
const SPOL_ERA5FC_P10 = [-0.74,-0.69,-0.53,-0.45,-0.38,-0.33,-0.38,-0.48,-0.51,-0.56,-0.64,-0.71,-0.79,-0.82,-0.84,-0.94,-1.05,-1.15,-1.3,-1.46,-1.61,-1.74,-1.92,-2.2,-2.5];
const SPOL_ERA5FC_P90 = [0.4,0.45,0.45,0.47,0.47,0.5,0.55,0.86,0.75,0.7,0.55,0.47,0.45,0.47,0.5,0.7,0.96,1.27,1.68,2.05,2.4,2.7,3.0,3.3,3.6];

// ---------------------------------------------------------------------------
// Panel table: each region pairs a count profile with five difference profiles
// (median, mean, 10th and 90th percentile per reference data set).
// ---------------------------------------------------------------------------
const REGIONS = [
  { title: 'Jan 2014; Global', col: 0, row: 0,
    pairTicks: GLOBAL_PAIR_TICKS, pairAlt: GLOBAL_PAIR_ALT, pairs: GLOBAL_PAIRS,
    gpacFine: [GLOBAL_GPAC_P10_FINE, GLOBAL_GPAC_P90_FINE],
    profiles: [
      [GLOBAL_GPAC_MED, GLOBAL_GPAC_MEAN, GLOBAL_GPAC_P10, GLOBAL_GPAC_P90],
      [GLOBAL_EOPA_MED, GLOBAL_EOPA_MEAN, GLOBAL_EOPA_P10, GLOBAL_EOPA_P90],
      [GLOBAL_ERAI_MED, GLOBAL_ERAI_MEAN, GLOBAL_ERAI_P10, GLOBAL_ERAI_P90],
      [GLOBAL_ERA5AN_MED, GLOBAL_ERA5AN_MEAN, GLOBAL_ERA5AN_P10, GLOBAL_ERA5AN_P90],
      [GLOBAL_ERA5FC_MED, GLOBAL_ERA5FC_MEAN, GLOBAL_ERA5FC_P10, GLOBAL_ERA5FC_P90]] },
  { title: 'Jan 2014; 20.0S-20.0N', col: 1, row: 0,
    pairTicks: TROP_PAIR_TICKS, pairAlt: TROP_PAIR_ALT, pairs: TROP_PAIRS,
    gpacFine: [TROP_GPAC_P10_FINE, TROP_GPAC_P90_FINE],
    profiles: [
      [TROP_GPAC_MED, TROP_GPAC_MEAN, TROP_GPAC_P10, TROP_GPAC_P90],
      [TROP_EOPA_MED, TROP_EOPA_MEAN, TROP_EOPA_P10, TROP_EOPA_P90],
      [TROP_ERAI_MED, TROP_ERAI_MEAN, TROP_ERAI_P10, TROP_ERAI_P90],
      [TROP_ERA5AN_MED, TROP_ERA5AN_MEAN, TROP_ERA5AN_P10, TROP_ERA5AN_P90],
      [TROP_ERA5FC_MED, TROP_ERA5FC_MEAN, TROP_ERA5FC_P10, TROP_ERA5FC_P90]] },
  { title: 'Jan 2014; 20.0N-60.0N', col: 0, row: 1,
    pairTicks: NMID_PAIR_TICKS, pairAlt: NMID_PAIR_ALT, pairs: NMID_PAIRS,
    gpacFine: [NMID_GPAC_P10_FINE, NMID_GPAC_P90_FINE],
    profiles: [
      [NMID_GPAC_MED, NMID_GPAC_MEAN, NMID_GPAC_P10, NMID_GPAC_P90],
      [NMID_EOPA_MED, NMID_EOPA_MEAN, NMID_EOPA_P10, NMID_EOPA_P90],
      [NMID_ERAI_MED, NMID_ERAI_MEAN, NMID_ERAI_P10, NMID_ERAI_P90],
      [NMID_ERA5AN_MED, NMID_ERA5AN_MEAN, NMID_ERA5AN_P10, NMID_ERA5AN_P90],
      [NMID_ERA5FC_MED, NMID_ERA5FC_MEAN, NMID_ERA5FC_P10, NMID_ERA5FC_P90]] },
  { title: 'Jan 2014; 60.0S-20.0S', col: 1, row: 1,
    pairTicks: SMID_PAIR_TICKS, pairAlt: SMID_PAIR_ALT, pairs: SMID_PAIRS,
    gpacFine: [SMID_GPAC_P10_FINE, SMID_GPAC_P90_FINE],
    profiles: [
      [SMID_GPAC_MED, SMID_GPAC_MEAN, SMID_GPAC_P10, SMID_GPAC_P90],
      [SMID_EOPA_MED, SMID_EOPA_MEAN, SMID_EOPA_P10, SMID_EOPA_P90],
      [SMID_ERAI_MED, SMID_ERAI_MEAN, SMID_ERAI_P10, SMID_ERAI_P90],
      [SMID_ERA5AN_MED, SMID_ERA5AN_MEAN, SMID_ERA5AN_P10, SMID_ERA5AN_P90],
      [SMID_ERA5FC_MED, SMID_ERA5FC_MEAN, SMID_ERA5FC_P10, SMID_ERA5FC_P90]] },
  { title: 'Jan 2014; 60.0N-90.0N', col: 0, row: 2,
    pairTicks: NPOL_PAIR_TICKS, pairAlt: NPOL_PAIR_ALT, pairs: NPOL_PAIRS,
    gpacFine: null,
    profiles: [
      [NPOL_GPAC_MED, NPOL_GPAC_MEAN, NPOL_GPAC_P10, NPOL_GPAC_P90],
      [NPOL_EOPA_MED, NPOL_EOPA_MEAN, NPOL_EOPA_P10, NPOL_EOPA_P90],
      [NPOL_ERAI_MED, NPOL_ERAI_MEAN, NPOL_ERAI_P10, NPOL_ERAI_P90],
      [NPOL_ERA5AN_MED, NPOL_ERA5AN_MEAN, NPOL_ERA5AN_P10, NPOL_ERA5AN_P90],
      [NPOL_ERA5FC_MED, NPOL_ERA5FC_MEAN, NPOL_ERA5FC_P10, NPOL_ERA5FC_P90]] },
  { title: 'Jan 2014; 90.0S-60.0S', col: 1, row: 2,
    pairTicks: SPOL_PAIR_TICKS, pairAlt: SPOL_PAIR_ALT, pairs: SPOL_PAIRS,
    gpacFine: null,
    profiles: [
      [SPOL_GPAC_MED, SPOL_GPAC_MEAN, SPOL_GPAC_P10, SPOL_GPAC_P90],
      [SPOL_EOPA_MED, SPOL_EOPA_MEAN, SPOL_EOPA_P10, SPOL_EOPA_P90],
      [SPOL_ERAI_MED, SPOL_ERAI_MEAN, SPOL_ERAI_P10, SPOL_ERAI_P90],
      [SPOL_ERA5AN_MED, SPOL_ERA5AN_MEAN, SPOL_ERA5AN_P10, SPOL_ERA5AN_P90],
      [SPOL_ERA5FC_MED, SPOL_ERA5FC_MEAN, SPOL_ERA5FC_P10, SPOL_ERA5FC_P90]] }
];

// ---------------------------------------------------------------------------
// Styling and page geometry
// ---------------------------------------------------------------------------
const LINE_COLORS = ['#ff0000', '#0000ff', '#008000', '#000000', '#ffa500'];
const THIN_COLORS = ['#ee3535', '#3535ee', '#2a8c2a', '#2a2a2a', '#f6bc4c'];
const THICK_W = 2.4;
const THIN_W = 1.1;
const MEAN_DASH = [9, 4];
const TEXT_COLOR = '#111111';
const GRID_COLOR = '#b8b8b8';
const FONT = "'DejaVu Sans', sans-serif";

// x positions: [left edge of count plot, shared edge, right edge of difference plot]
const COL_X = [[49, 199, 458], [584, 735, 994]];
const ROW_Y = [27, 482, 937];
const PLOT_H = 371;

Chart.defaults.font.family = FONT;
Chart.defaults.color = TEXT_COLOR;

// grid, frame, tick marks and legend drawn around the Chart.js scales
const framePlugin = {
  id: 'frame',
  beforeDatasetsDraw(chart, _args, opts) {
    const { ctx, chartArea: a } = chart;
    const xs = chart.scales.x, ys = chart.scales.y;
    ctx.save();
    ctx.strokeStyle = GRID_COLOR;
    ctx.lineWidth = 1;
    ctx.setLineDash([1, 2]);
    ctx.beginPath();
    xs.ticks.forEach(t => {
      const p = Math.round(xs.getPixelForValue(t.value)) + 0.5;
      ctx.moveTo(p, a.top); ctx.lineTo(p, a.bottom);
    });
    ys.ticks.forEach(t => {
      const p = Math.round(ys.getPixelForValue(t.value)) + 0.5;
      ctx.moveTo(a.left, p); ctx.lineTo(a.right, p);
    });
    ctx.stroke();
    ctx.setLineDash([]);
    if (opts.zeroLine) {
      const p = Math.round(xs.getPixelForValue(0)) + 0.5;
      ctx.strokeStyle = '#8a8a8a';
      ctx.lineWidth = 1.2;
      ctx.beginPath(); ctx.moveTo(p, a.top); ctx.lineTo(p, a.bottom); ctx.stroke();
    }
    ctx.restore();
  },
  afterDatasetsDraw(chart, _args, opts) {
    const { ctx, chartArea: a } = chart;
    const xs = chart.scales.x, ys = chart.scales.y;
    const L = Math.round(a.left) + 0.5, R = Math.round(a.right) + 0.5;
    const T = Math.round(a.top) + 0.5, B = Math.round(a.bottom) + 0.5;
    ctx.save();
    ctx.strokeStyle = '#262626';
    ctx.lineWidth = 1;
    ctx.strokeRect(L, T, R - L, B - T);
    ctx.beginPath();
    ys.ticks.forEach(t => {
      const p = Math.round(ys.getPixelForValue(t.value)) + 0.5;
      if (opts.tickLeft) { ctx.moveTo(L, p); ctx.lineTo(L - opts.tickLeft, p); }
      if (opts.tickRight) { ctx.moveTo(R, p); ctx.lineTo(R + opts.tickRight, p); }
    });
    xs.ticks.forEach(t => {
      const p = Math.round(xs.getPixelForValue(t.value)) + 0.5;
      ctx.moveTo(p, B); ctx.lineTo(p, B - 3.5);
    });
    ctx.stroke();

    const lg = opts.legend;
    if (lg) {
      const items = chart.data.datasets.filter(d => d.legendText);
      if (lg.frame) {
        ctx.fillStyle = 'rgba(255,255,255,0.8)';
        ctx.strokeStyle = '#cccccc';
        ctx.fillRect(a.left + lg.frame[0], a.top + lg.frame[1], lg.frame[2], lg.frame[3]);
        ctx.strokeRect(Math.round(a.left + lg.frame[0]) + 0.5, Math.round(a.top + lg.frame[1]) + 0.5, lg.frame[2], lg.frame[3]);
      }
      ctx.font = '10.5px ' + FONT;
      ctx.textBaseline = 'middle';
      ctx.textAlign = 'left';
      items.forEach((d, i) => {
        const y = a.top + lg.y + i * lg.step;
        const x = a.left + lg.x;
        ctx.strokeStyle = d.borderColor;
        ctx.lineWidth = d.borderWidth;
        ctx.setLineDash(d.borderDash || []);
        ctx.beginPath(); ctx.moveTo(x, y); ctx.lineTo(x + 22, y); ctx.stroke();
        ctx.setLineDash([]);
        ctx.fillStyle = TEXT_COLOR;
        ctx.fillText(d.legendText, x + 23, y + 0.5);
      });
    }
    ctx.restore();
  }
};

function addCanvas(x, y, w, h) {
  const c = document.createElement('canvas');
  c.width = w; c.height = h;
  c.style.left = x + 'px'; c.style.top = y + 'px';
  c.style.width = w + 'px'; c.style.height = h + 'px';
  document.body.appendChild(c);
  return c;
}

function addText(txt, cx, cy, size, vertical) {
  const d = document.createElement('div');
  d.className = 'lbl';
  d.textContent = txt;
  d.style.left = cx + 'px';
  d.style.top = cy + 'px';
  d.style.fontSize = size + 'px';
  d.style.transform = 'translate(-50%, -50%)' + (vertical ? ' rotate(-90deg)' : '');
  document.body.appendChild(d);
}

function lineSet(points, color, width, dash, legendText) {
  return {
    data: points, borderColor: color, backgroundColor: color, borderWidth: width,
    borderDash: dash, showLine: true, fill: false, tension: 0,
    pointRadius: 0, pointHoverRadius: 0, legendText: legendText
  };
}

function profilePoints(alt, values) {
  return alt.map((y, i) => ({ x: values[i], y })).filter(p => p.x !== null && p.x !== undefined);
}

// coarse profile with the finely sampled stratospheric section spliced in
function splicedPoints(alt, values, fineValues) {
  if (!fineValues) return profilePoints(alt, values);
  const lo = ALT_FINE[0], hi = ALT_FINE[ALT_FINE.length - 1];
  const outer = profilePoints(alt, values).filter(p => p.y < lo || p.y > hi);
  return outer.concat(profilePoints(ALT_FINE, fineValues)).sort((p, q) => p.y - q.y);
}

function fmtK(v) {
  const s = Math.abs(v).toFixed(1);
  return v < 0 ? '\u2212' + s : s;
}

function fixedTicks(values) {
  return scale => { scale.ticks = values.map(v => ({ value: v })); };
}

function tickFont() { return { size: 12.5, family: FONT }; }

// left plot: number of collocated pairs
function pairsChart(reg) {
  const [L, S] = COL_X[reg.col];
  const T = ROW_Y[reg.row];
  const padL = 49, padR = 18, padT = 12, padB = 60;
  const canvas = addCanvas(L - padL, T - padT, padL + (S - L) + padR, padT + PLOT_H + padB);

  const base = reg.pairAlt.map((a, i) => ({ x: reg.pairs[i], y: a }));
  const plateau = reg.pairs[reg.pairs.length - 1];
  const datasets = [];
  SOURCES.forEach((name, i) => {
    let pts = base;
    if (i === 0) {
      pts = base.filter(p => p.y < GPAC_TOP_KM);
      pts.push({ x: plateau, y: GPAC_TOP_KM }, { x: 0, y: GPAC_TOP_KM });
    }
    datasets.push(lineSet(pts, LINE_COLORS[i], i === 0 ? 2.6 : THICK_W, [], 'no. pairs ' + name));
  });
  datasets.push(lineSet([{ x: MIN_PAIRS, y: 0 }, { x: MIN_PAIRS, y: 40 }], '#8c8c8c', 0.8, [1.5, 1.5], 'minimum number'));
  datasets.forEach((d, k) => { d.order = -k; });

  const maxX = reg.pairTicks[reg.pairTicks.length - 1];
  return new Chart(canvas, {
    type: 'scatter',
    data: { datasets },
    options: {
      responsive: false, animation: false, devicePixelRatio: 1,
      layout: { padding: { left: 0, right: padR, top: padT, bottom: 0 } },
      plugins: {
        legend: { display: false }, tooltip: { enabled: false },
        frame: { tickLeft: 0, tickRight: 0, legend: { x: 8, y: 302.7, step: 10.65, frame: [4.5, 294.5, 139, 71] } }
      },
      scales: {
        x: {
          type: 'linear', position: 'bottom', min: 0, max: maxX,
          afterBuildTicks: fixedTicks(reg.pairTicks),
          ticks: { autoSkip: false, minRotation: 35, maxRotation: 35, padding: 3, font: tickFont(), color: TEXT_COLOR,
                   callback: v => String(v) },
          grid: { display: false, drawTicks: false }, border: { display: false },
          afterFit: s => { s.height = padB; s.paddingLeft = 0; s.paddingRight = 0; }
        },
        y: {
          type: 'linear', position: 'left', min: 0, max: 40,
          afterBuildTicks: fixedTicks(ALT_TICKS),
          ticks: { padding: 4, font: tickFont(), color: TEXT_COLOR },
          grid: { display: false, drawTicks: false }, border: { display: false },
          afterFit: s => { s.width = padL; s.paddingTop = 0; s.paddingBottom = 0; }
        }
      }
    },
    plugins: [framePlugin]
  });
}

// right plot: temperature difference profiles
function diffChart(reg) {
  const [, S, R] = COL_X[reg.col];
  const T = ROW_Y[reg.row];
  const padL = 24, padR = 40, padT = 12, padB = 40;
  const canvas = addCanvas(S - padL, T - padT, padL + (R - S) + padR, padT + PLOT_H + padB);

  const datasets = [];
  reg.profiles.forEach((p, i) => {
    const alt = i === 0 ? ALT_GPAC : ALT;
    const [med, mean, p10, p90] = p;
    const fine = i === 0 && reg.gpacFine ? reg.gpacFine : [null, null];
    datasets.push(lineSet(profilePoints(alt, med), LINE_COLORS[i], THICK_W, [], 'median ' + SOURCES[i]));
    datasets.push(lineSet(profilePoints(alt, mean), LINE_COLORS[i], THICK_W, MEAN_DASH, 'mean ' + SOURCES[i]));
    datasets.push(lineSet(splicedPoints(alt, p10, fine[0]), THIN_COLORS[i], THIN_W, [], '10%, 90% Perc. ' + SOURCES[i]));
    datasets.push(lineSet(splicedPoints(alt, p90, fine[1]), THIN_COLORS[i], THIN_W, [], null));
  });
  datasets.forEach((d, k) => { d.order = -k; });

  return new Chart(canvas, {
    type: 'scatter',
    data: { datasets },
    options: {
      responsive: false, animation: false, devicePixelRatio: 1,
      layout: { padding: { left: padL, right: 0, top: padT, bottom: 0 } },
      plugins: {
        legend: { display: false }, tooltip: { enabled: false },
        frame: { zeroLine: true, tickLeft: 4, tickRight: 4, legend: { x: 9, y: 207, step: 10.65 } }
      },
      scales: {
        x: {
          type: 'linear', position: 'bottom', min: -2, max: 2,
          afterBuildTicks: fixedTicks(TEMP_TICKS),
          ticks: { autoSkip: false, minRotation: 0, maxRotation: 0, padding: 4, font: tickFont(), color: TEXT_COLOR,
                   callback: v => fmtK(v) },
          grid: { display: false, drawTicks: false }, border: { display: false },
          afterFit: s => { s.height = padB; s.paddingLeft = 0; s.paddingRight = 0; }
        },
        y: {
          type: 'linear', position: 'right', min: 0, max: 40,
          afterBuildTicks: fixedTicks(ALT_TICKS),
          ticks: { padding: 7, font: tickFont(), color: TEXT_COLOR },
          grid: { display: false, drawTicks: false }, border: { display: false },
          afterFit: s => { s.width = padR; s.paddingTop = 0; s.paddingBottom = 0; }
        }
      }
    },
    plugins: [framePlugin]
  });
}

REGIONS.forEach(reg => {
  const [L, S, R] = COL_X[reg.col];
  const T = ROW_Y[reg.row];
  pairsChart(reg);
  diffChart(reg);
  addText(reg.title, (L + R) / 2, T - 13, 15.5, false);
  addText('altitude [km]', L - 32, T + PLOT_H / 2, 12.5, true);
  addText('temperature diff. [K]', (S + R) / 2, T + PLOT_H + 28, 12.5, false);
});
</script>
</body>
</html>
